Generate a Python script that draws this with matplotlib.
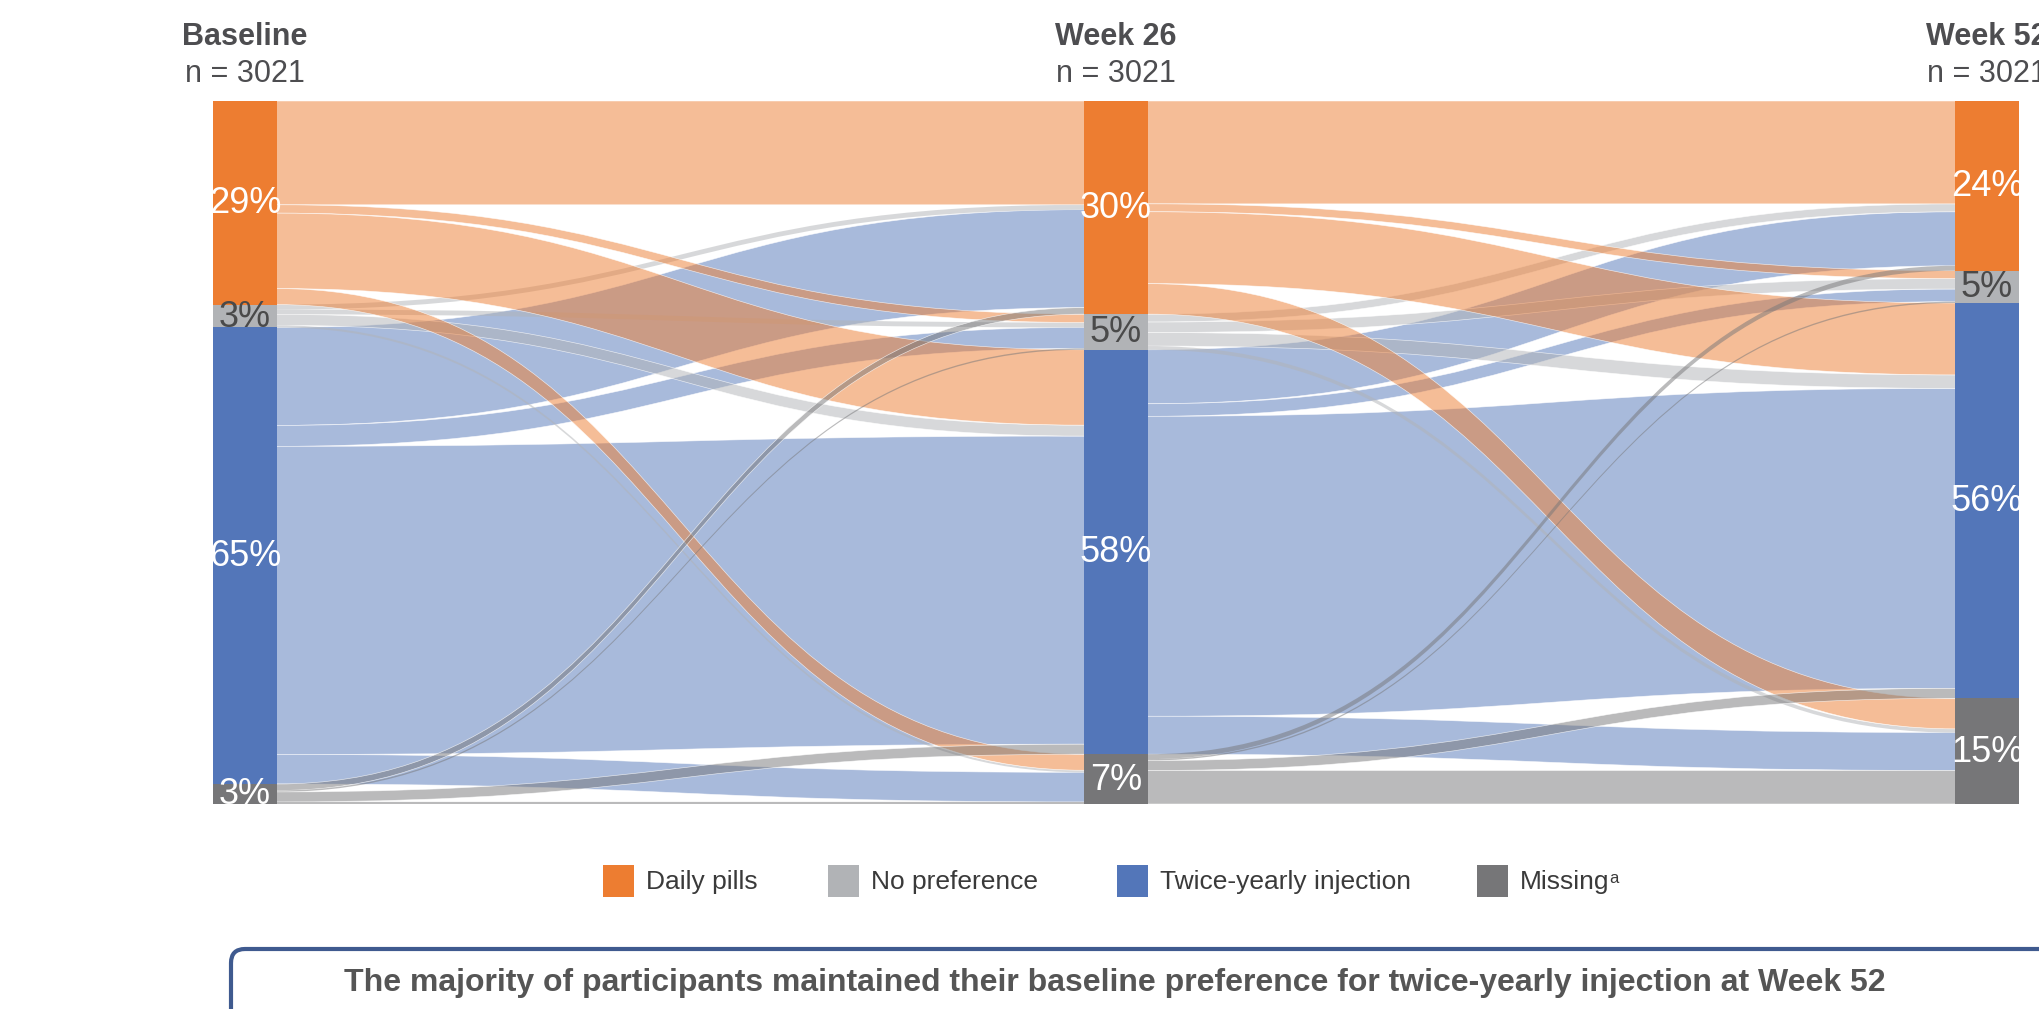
import matplotlib
matplotlib.use("Agg")
import matplotlib.pyplot as plt
from matplotlib.path import Path
from matplotlib.patches import PathPatch, Rectangle, FancyBboxPatch
from matplotlib.colors import to_rgba

plt.rcParams['font.family'] = ['Liberation Sans', 'DejaVu Sans']

# ---- data -------------------------------------------------------------
stages = ["Baseline", "Week 26", "Week 52"]
stage_n = [3021, 3021, 3021]
categories = ["Daily pills", "No preference", "Twice-yearly injection", "Missing"]
legend_labels = ["Daily pills", "No preference", "Twice-yearly injection", "Missing"]
legend_superscripts = ["", "", "", "a"]
summary_text = ("The majority of participants maintained their baseline preference "
                "for twice-yearly injection at Week 52")

# participants moving between preferences (rows = from, columns = to)
flows_baseline_to_w26 = [
    [446, 36, 324, 69],
    [21, 21, 47, 9],
    [421, 90, 1324, 127],
    [28, 6, 43, 9],
]
flows_w26_to_w52 = [
    [442, 34, 309, 131],
    [34, 45, 58, 16],
    [232, 54, 1289, 163],
    [21, 6, 43, 144],
]

# ---- style ------------------------------------------------------------
node_colors = ["#ED7D31", "#B1B3B6", "#5376B9", "#767678"]
pct_colors = ["white", "#4A4A4A", "white", "white"]
header_color = "#4D4D50"
link_alpha = 0.5

W, H = 2039, 1009
fig = plt.figure(figsize=(W / 100, H / 100), dpi=100)
ax = fig.add_axes([0, 0, 1, 1])
ax.set_xlim(0, W)
ax.set_ylim(H, 0)
ax.axis("off")

node_left = [213, 1084, 1955]
node_w = 64
top, bottom = 101, 804
scale = (bottom - top) / stage_n[0]

# node totals per stage
flow_sets = [flows_baseline_to_w26, flows_w26_to_w52]
totals = [[sum(r) for r in flows_baseline_to_w26]]
for fm in flow_sets:
    totals.append([sum(fm[i][j] for i in range(4)) for j in range(4)])

# node vertical extents
node_y = []
for s in range(3):
    ys = []
    y = top
    for v in totals[s]:
        ys.append((y, y + v * scale))
        y += v * scale
    node_y.append(ys)


def band(x0, x1, y0t, y0b, y1t, y1b, color):
    xm = (x0 + x1) / 2
    verts = [(x0, y0t), (xm, y0t), (xm, y1t), (x1, y1t),
             (x1, y1b), (xm, y1b), (xm, y0b), (x0, y0b), (x0, y0t)]
    codes = [Path.MOVETO, Path.CURVE4, Path.CURVE4, Path.CURVE4,
             Path.LINETO, Path.CURVE4, Path.CURVE4, Path.CURVE4, Path.CLOSEPOLY]
    ax.add_patch(PathPatch(Path(verts, codes), facecolor=to_rgba(color, link_alpha),
                           edgecolor="none", zorder=1))
    # thin white separators along the edges of wider bands
    if (y0b - y0t) < 5:
        return
    for (ya, yb) in ((y0t, y1t), (y0b, y1b)):
        edge = Path([(x0, ya), (xm, ya), (xm, yb), (x1, yb)],
                    [Path.MOVETO, Path.CURVE4, Path.CURVE4, Path.CURVE4])
        ax.add_patch(PathPatch(edge, facecolor="none", edgecolor=(1, 1, 1, 0.75),
                               linewidth=0.45, zorder=1))


for s, fm in enumerate(flow_sets):
    x0 = node_left[s] + node_w
    x1 = node_left[s + 1]
    # outgoing offsets ordered by target, incoming offsets ordered by source
    out_y = {}
    for i in range(4):
        y = node_y[s][i][0]
        for j in range(4):
            out_y[(i, j)] = (y, y + fm[i][j] * scale)
            y += fm[i][j] * scale
    in_y = {}
    for j in range(4):
        y = node_y[s + 1][j][0]
        for i in range(4):
            in_y[(i, j)] = (y, y + fm[i][j] * scale)
            y += fm[i][j] * scale
    for i in [2, 1, 0, 3]:
        for j in range(4):
            if fm[i][j] <= 0:
                continue
            a, b = out_y[(i, j)]
            c, d = in_y[(i, j)]
            band(x0, x1, a, b, c, d, node_colors[i])

# nodes and percentage labels
for s in range(3):
    for k in range(4):
        y0, y1 = node_y[s][k]
        ax.add_patch(Rectangle((node_left[s], y0), node_w, y1 - y0,
                               facecolor=node_colors[k], edgecolor="none", zorder=3))
        pct = round(100 * totals[s][k] / stage_n[s])
        ax.text(node_left[s] + node_w / 2, (y0 + y1) / 2 + 1, f"{pct}%",
                ha="center", va="center", fontsize=26, color=pct_colors[k], zorder=4)
    cx = node_left[s] + node_w / 2
    ax.text(cx, 37, stages[s], ha="center", va="center", fontsize=22,
            fontweight="bold", color=header_color)
    ax.text(cx, 74, f"n = {stage_n[s]}", ha="center", va="center", fontsize=22,
            color=header_color)

# legend
legend_sq_x = [603, 828, 1117, 1477]
for k, lab in enumerate(legend_labels):
    ax.add_patch(Rectangle((legend_sq_x[k], 865), 31, 32,
                           facecolor=node_colors[k], edgecolor="none"))
    t = ax.text(legend_sq_x[k] + 43, 882, lab, ha="left", va="center",
                fontsize=19, color="#3A3A3A")
    if legend_superscripts[k]:
        ax.annotate(legend_superscripts[k], xy=(1.0, 0.95), xycoords=t,
                    ha="left", va="top", fontsize=12, color="#3A3A3A")

# summary box
ax.add_patch(FancyBboxPatch((231, 949), 1900, 100,
                            boxstyle="round,pad=0,rounding_size=14",
                            facecolor="white", edgecolor="#3F5A8F", linewidth=3,
                            zorder=5))
ax.text(1115, 983, summary_text, ha="center", va="center", fontsize=23,
        fontweight="bold", color="#555555", zorder=6)

fig.savefig("out.png", dpi=100)
